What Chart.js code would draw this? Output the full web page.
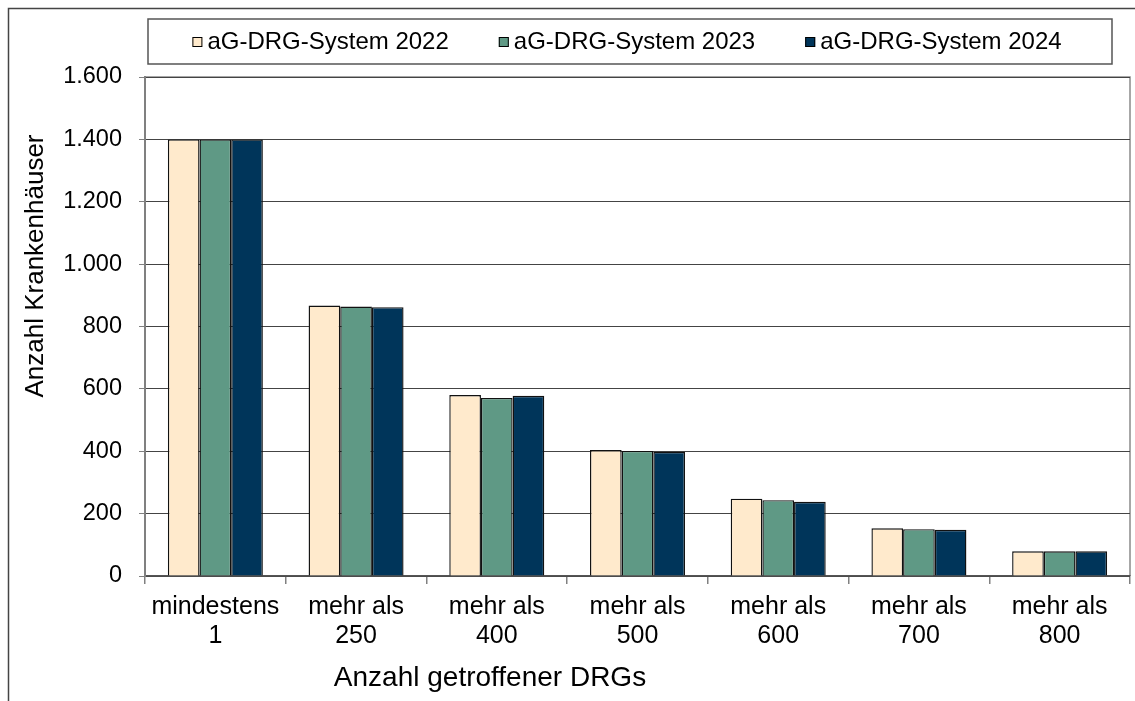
<!DOCTYPE html>
<html>
<head>
<meta charset="utf-8">
<script src="https://cdn.jsdelivr.net/npm/chart.js@4"></script>
<style>
  html, body { margin: 0; padding: 0; background: #ffffff; }
  #wrap { width: 1135px; height: 701px; }
</style>
</head>
<body>
<div id="wrap"><canvas id="c" width="1135" height="701"></canvas></div>
<script>
const categories = [["mindestens", "1"], ["mehr als", "250"], ["mehr als", "400"], ["mehr als", "500"], ["mehr als", "600"], ["mehr als", "700"], ["mehr als", "800"]];
const seriesNames = ["aG-DRG-System 2022", "aG-DRG-System 2023", "aG-DRG-System 2024"];
const values2022 = [1400, 867, 580, 404, 248, 153, 79];
const values2023 = [1400, 864, 571, 401, 243, 150, 79];
const values2024 = [1400, 862, 578, 398, 238, 148, 79];
const seriesColors = ["#FFEACC", "#5F9985", "#00355A"];
const yTicks = [0, 200, 400, 600, 800, 1000, 1200, 1400, 1600];
const yTickLabels = ["0", "200", "400", "600", "800", "1.000", "1.200", "1.400", "1.600"];
const xTitle = "Anzahl getroffener DRGs";
const yTitle = "Anzahl Krankenhäuser";

const FONT = "'Liberation Sans', Arial, Helvetica, sans-serif";

const framePlugin = {
  id: 'frames',
  beforeDraw(chart) {
    const ctx = chart.ctx;
    ctx.save();
    ctx.fillStyle = '#ffffff';
    ctx.fillRect(0, 0, chart.width, chart.height);
    // outer chart frame (left & top visible)
    ctx.strokeStyle = '#444444';
    ctx.lineWidth = 1.5;
    ctx.beginPath();
    ctx.moveTo(8.5, chart.height);
    ctx.lineTo(8.5, 8.5);
    ctx.lineTo(chart.width, 8.5);
    ctx.stroke();
    // plot area frame
    const a = chart.chartArea;
    ctx.strokeStyle = '#8a8a8a';
    ctx.lineWidth = 1.5;
    ctx.beginPath();
    ctx.moveTo(a.left, a.top);
    ctx.lineTo(a.right, a.top);
    ctx.lineTo(a.right, a.bottom);
    ctx.stroke();
    ctx.restore();
  },
  afterDraw(chart) {
    const ctx = chart.ctx;
    ctx.save();
    // axis titles
    ctx.fillStyle = '#000000';
    ctx.textAlign = 'center';
    ctx.textBaseline = 'middle';
    ctx.font = '28px ' + FONT;
    ctx.fillText(xTitle, 490, 678);
    ctx.save();
    ctx.translate(36, 266);
    ctx.rotate(-Math.PI / 2);
    ctx.font = '26px ' + FONT;
    ctx.fillText(yTitle, 0, 0);
    ctx.restore();
    // legend box
    const boxL = 148, boxR = 1112, boxT = 19, boxB = 64;
    ctx.strokeStyle = '#555555';
    ctx.lineWidth = 1.5;
    ctx.strokeRect(boxL, boxT, boxR - boxL, boxB - boxT);
    ctx.font = '24px ' + FONT;
    ctx.textBaseline = 'middle';
    ctx.textAlign = 'left';
    const sq = 10, gapText = 5, gapItem = 50;
    const items = chart.data.datasets.map(ds => ({label: ds.label, color: ds.backgroundColor, w: ctx.measureText(ds.label).width}));
    const total = items.reduce((s, it) => s + sq + gapText + it.w, 0) + gapItem * (items.length - 1);
    let x = (boxL + boxR) / 2 - total / 2 - 3;
    const cy = (boxT + boxB) / 2 + 0.5;
    items.forEach(it => {
      ctx.fillStyle = it.color;
      ctx.fillRect(x, cy - sq / 2, sq, sq);
      ctx.strokeStyle = '#000000';
      ctx.lineWidth = 1;
      ctx.strokeRect(x + 0.5, cy - sq / 2 + 0.5, sq - 1, sq - 1);
      ctx.fillStyle = '#000000';
      ctx.fillText(it.label, x + sq + gapText, cy);
      x += sq + gapText + it.w + gapItem;
    });
    ctx.restore();
  }
};

const datasets = [values2022, values2023, values2024].map((vals, i) => ({
  label: seriesNames[i],
  data: vals,
  backgroundColor: seriesColors[i],
  borderColor: '#111111',
  borderWidth: 1.4,
  barPercentage: 1.0,
  categoryPercentage: 0.675
}));

new Chart(document.getElementById('c'), {
  type: 'bar',
  data: { labels: categories, datasets: datasets },
  plugins: [framePlugin],
  options: {
    responsive: false,
    animation: false,
    devicePixelRatio: 1,
    layout: { padding: { top: 77, right: 5, left: 0, bottom: 0 } },
    plugins: {
      legend: { display: false },
      tooltip: { enabled: false }
    },
    scales: {
      x: {
        offset: true,
        grid: {
          display: true,
          offset: true,
          drawOnChartArea: false,
          tickLength: 8,
          color: '#808080',
          lineWidth: 1.5
        },
        border: { display: true, color: '#555555', width: 1.5 },
        ticks: {
          color: '#000000',
          font: { family: FONT, size: 25, lineHeight: 1.16 },
          padding: 9,
          maxRotation: 0,
          autoSkip: false
        },
        afterFit(scale) { scale.height = 125; }
      },
      y: {
        min: 0,
        max: 1600,
        afterBuildTicks(scale) { scale.ticks = yTicks.map(v => ({ value: v })); },
        grid: {
          color: '#444444',
          lineWidth: 1,
          tickLength: 6,
          tickColor: '#808080'
        },
        border: { display: true, color: '#808080', width: 2 },
        ticks: {
          color: '#000000',
          font: { family: FONT, size: 23.5 },
          padding: 17,
          callback(value) {
            const i = yTicks.indexOf(value);
            return i >= 0 ? yTickLabels[i] : '';
          }
        },
        afterFit(scale) { scale.width = 145; }
      }
    }
  }
});
</script>
</body>
</html>
